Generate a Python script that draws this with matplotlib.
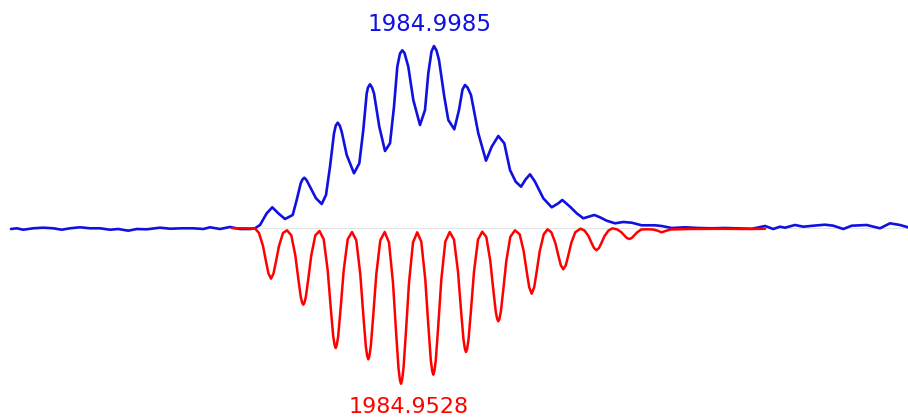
#!/bin/python3

import matplotlib
matplotlib.use("Agg")
import matplotlib.pyplot as plt

# Measured spectrum (blue), x position and intensity above the baseline.
measured_x = [
    11, 16.7, 23.3, 33.3, 43.3, 53.3, 61.7, 70, 80, 90, 100, 110, 118.3, 128.3,
    136.7, 146.7, 160, 170, 181.7, 193.3, 203.3, 210, 220, 230, 240, 250, 255,
    260, 266.7, 272.3, 278.3, 285, 292.7, 296.7, 300.7, 302.5, 304.3, 306.5, 310,
    316, 321.7, 326, 330, 334, 335.8, 337.7, 339.7, 341.7, 346.7, 354, 359.3,
    363.3, 366.7, 368, 370, 372, 374, 379.3, 385, 390, 394, 397.3, 400, 402.3,
    404.5, 408.3, 413.3, 420, 425, 428.3, 431.5, 434, 436.5, 439, 444.3, 448.3,
    454.3, 459, 462.5, 465, 467.5, 471, 478.3, 486, 491.7, 498.3, 504.3, 510,
    515.7, 521, 525.7, 530, 535, 543.3, 551.7, 558.3, 562.3, 570, 576.7, 583.3,
    594.3, 600, 606.7, 615, 623.3, 631.7, 641.7, 655, 661.7, 671.7, 685, 698.3,
    712, 725, 740, 752, 765, 773.3, 780, 785, 795, 803.3, 813.3, 825, 833.3,
    843.3, 851.7, 866.7, 880, 890, 900, 908,
]
measured_y = [
    -0.5, 0.2, -1.2, 0.2, 0.8, 0.2, -1.2, 0.2, 1.2, 0.2, 0.2, -1.2, -0.5, -2.2,
    -0.5, -0.8, 0.8, -0.2, 0.2, 0.2, -0.5, 1.2, -0.5, 1.5, -0.5, -0.5, 0.2,
    3.5, 15.2, 21.2, 15.2, 9.5, 13.5, 28.5, 45.2, 49, 50.8, 48.5, 41.8,
    30.2, 24.5, 33.5, 61.8, 95.2, 103, 105.8, 103, 96.8, 73.5, 55.2, 65.2,
    98.5, 135.2, 141, 144.2, 141, 135.2, 101.8, 77.5, 85.2, 121.8, 161.8, 175, 178.2,
    175.5, 161.8, 128.5, 103.5, 118.5, 155.2, 177, 182.5, 178, 168.5, 131.8, 108.5,
    99.2, 118.5, 139, 143.5, 141, 133.5, 95.2, 67.8, 81.8, 92.5, 85.2, 58.5,
    46.8, 41.8, 49.2, 54.2, 46.8, 30.2, 21.2, 25.2, 28.5, 21.8, 15.2, 10.2,
    13.5, 11.2, 7.8, 5.2, 6.5, 5.8, 3.2, 3.2, 2.5, 0.5, 1.2, 0.5,
    0.2, 0.5, 0, -0.3, 2.5, -0.5, 1.8, 0.8, 3.5, 1.8, 2.8, 3.8, 2.8,
    -0.5, 2.8, 3.5, 0.2, 5.2, 3.5, 1.2,
]

# Simulated isotope pattern (red), drawn mirrored below the baseline.
simulated_x = [
    232, 245, 255, 259, 263, 266, 268.5, 271, 273.5, 276, 279, 283, 287,
    291.3, 295.3, 298.3, 300.8, 302.2, 303.3, 304.4, 305.8, 308.3, 311.3, 315.3, 319.5,
    323.7, 327.7, 330.7, 333.2, 334.6, 335.7, 336.8, 338.2, 340.7, 343.7, 347.7, 352,
    356.3, 360.3, 363.3, 365.8, 367.2, 368.3, 369.4, 370.8, 373.3, 376.3, 380.3, 384.7,
    389, 393, 396, 398.5, 399.9, 401, 402.1, 403.5, 406, 409, 413, 417.2,
    421.3, 425.3, 428.3, 430.8, 432.2, 433.3, 434.4, 435.8, 438.3, 441.3, 445.3, 449.7,
    454, 458, 461, 463.5, 464.9, 466, 467.1, 468.5, 471, 474, 478, 482.2,
    486.3, 490.3, 493.3, 495.8, 497.2, 498.3, 499.4, 500.8, 503.3, 506.3, 510.3, 515,
    519.7, 523.7, 526.7, 529.2, 531.7, 534.2, 536.7, 539.7, 543.7, 547.5,
    551.3, 555.3, 558.3, 560.8, 563.3, 565.8, 568.3, 571.3, 575.3, 580.5,
    584.5, 588.5, 591.5, 594, 596.5, 599, 601.5, 604.5, 608.5, 612.5,
    617.3, 621.3, 624.3, 626.8, 629.3, 631.8, 634.3, 637.3, 641.3, 646,
    653, 657, 661.7, 666, 671, 690, 720, 745, 765,
]
simulated_y = [
    0.3, 0.2, 0, -4.5, -17.5, -33, -45, -50.2, -45, -33, -17.5, -4.5, -1.8,
    -6.9, -26.7, -50.3, -68.6, -74.3, -76.2, -74.3, -68.6, -50.3, -26.7, -6.9, -2.5,
    -10.8, -41.8, -78.9, -107.6, -116.5, -119.5, -116.5, -107.6, -78.9, -41.8, -10.8, -3.5,
    -11.8, -45.8, -86.3, -117.7, -127.5, -130.8, -127.5, -117.7, -86.3, -45.8, -11.8, -3.5,
    -14, -54.3, -102.4, -139.7, -151.3, -155.2, -151.3, -139.7, -102.4, -54.3, -14, -3.8,
    -13.2, -51.2, -96.5, -131.6, -142.5, -146.2, -142.5, -131.6, -96.5, -51.2, -13.2, -3.5,
    -11.1, -43.2, -81.5, -111.2, -120.4, -123.5, -120.4, -111.2, -81.5, -43.2, -11.1, -3.2,
    -8.4, -32.5, -61.2, -83.5, -90.5, -92.8, -90.5, -83.5, -61.2, -32.5, -8.4, -1.8,
    -5.9, -22.8, -43, -58.7, -65.2, -58.7, -43, -22.8, -5.9, -0.8,
    -3.7, -14.3, -26.9, -36.7, -40.8, -36.7, -26.9, -14.3, -3.7, -0.2,
    -2, -7.6, -14.3, -19.5, -21.7, -19.5, -14.3, -7.6, -2, 0.2,
    -1, -3.7, -6.9, -9.5, -10.5, -9.5, -6.9, -3.7, -1, -0.8,
    -1, -2, -3.8, -2.3, -1, -0.5, -0.3, -0.5, -0.3,
]

measured_label = "1984.9985"
simulated_label = "1984.9528"
measured_label_pos = (429, 204)
simulated_label_pos = (409, -178)


def main():
    plt.rcParams["lines.solid_joinstyle"] = "round"
    plt.rcParams["lines.solid_capstyle"] = "round"
    fig = plt.figure(figsize=(9.08, 4.19), dpi=100)
    ax = fig.add_axes([0, 0, 1, 1])
    ax.set_xlim(0, 908)
    ax.set_ylim(-190.5, 228.5)
    ax.axis("off")

    ax.axhline(0, xmin=232 / 908, xmax=1, color="#e4e4e4", lw=0.8, zorder=0)
    ax.plot(measured_x, measured_y, color="#1010e0", lw=1.9, zorder=2)
    ax.plot(simulated_x, simulated_y, color="#ff0000", lw=1.8, zorder=3)

    ax.text(*measured_label_pos, measured_label, color="#1010e0", fontsize=16.5,
            ha="center", va="center")
    ax.text(*simulated_label_pos, simulated_label, color="#ff0000", fontsize=16,
            ha="center", va="center")

    fig.savefig("out.png", dpi=100)


if __name__ == "__main__":
    main()
